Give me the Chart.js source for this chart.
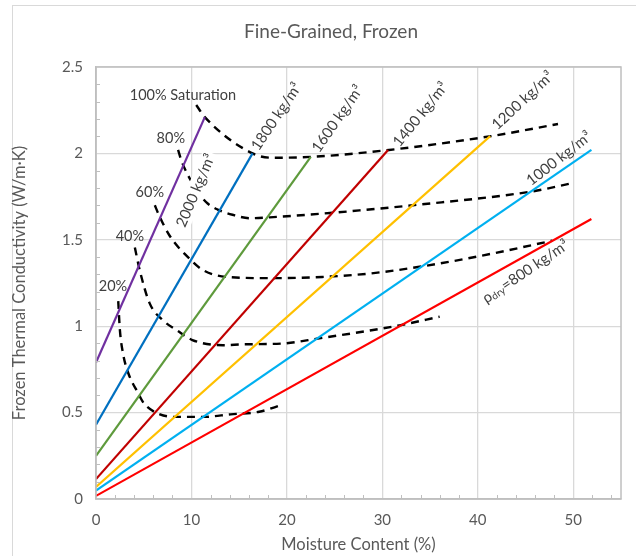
<!DOCTYPE html>
<html>
<head>
<meta charset="utf-8">
<script src="https://cdn.jsdelivr.net/npm/chart.js@4.4.1/dist/chart.umd.min.js"></script>
<style>
  html, body { margin: 0; padding: 0; background: #fff; }
  #wrap { position: relative; width: 636px; height: 556px; overflow: hidden; }
  #frame { position: absolute; left: 12px; top: 5px; width: 700px; height: 700px; border: 1px solid #d9d9d9; }
  #chart { position: absolute; left: 0; top: 0; }
</style>
</head>
<body>
<div id="wrap">
  <div id="frame"></div>
  <canvas id="chart" width="636" height="556"></canvas>
</div>
<script>
  "use strict";

  var FONT = "Lato, 'Open Sans', sans-serif";
  var TEXT = "#595959";
  var TITLE = "Fine-Grained, Frozen";

  // solid lines, one per dry density (moisture % -> conductivity W/m·K)
  var densities = ["2000", "1800", "1600", "1400", "1200", "1000", "800"];
  var densityColors = ["#7030A0", "#0070C0", "#5E9A3C", "#C00000", "#FFC000", "#00B0F0", "#FF0000"];
  var lineStartK = [0.79, 0.43, 0.25, 0.115, 0.07, 0.048, 0.018];
  var lineEndMoisture = [11.4, 16.4, 22.5, 30.6, 41.3, 51.9, 51.9];
  var lineEndK = [2.21, 2.00, 1.98, 2.02, 2.10, 2.02, 1.62];

  // dashed saturation curves
  var sat100X = [10.5, 11.4, 16.4, 18.4, 22.6, 30.7, 41.4, 48.4];
  var sat100Y = [2.28, 2.21, 2.00, 1.975, 1.98, 2.02, 2.10, 2.17];
  var sat80X = [8.6, 9.0, 11.05, 11.7, 12.75, 14.3, 16.1, 18.2, 24.5, 27.6, 33.2, 45.7, 50.1];
  var sat80Y = [2.02, 1.95, 1.75, 1.71, 1.675, 1.645, 1.625, 1.63, 1.655, 1.67, 1.70, 1.78, 1.83];
  var sat60X = [6.16, 6.5, 7.7, 9.8, 11.2, 13.7, 18.5, 23.7, 28.7, 34.6, 41.5, 47.8];
  var sat60Y = [1.70, 1.655, 1.525, 1.39, 1.325, 1.285, 1.278, 1.285, 1.305, 1.35, 1.42, 1.495];
  var sat40X = [4.07, 4.6, 5.6, 7.0, 8.5, 10.1, 13.3, 15.4, 19.6, 23.4, 28.7, 31.8, 36.0];
  var sat40Y = [1.455, 1.32, 1.135, 1.035, 0.975, 0.92, 0.89, 0.895, 0.9, 0.93, 0.975, 1.005, 1.055];
  var sat20X = [2.33, 2.5, 2.82, 3.34, 4.39, 5.0, 6.7, 8.6, 11.2, 14.1, 17.1, 19.5];
  var sat20Y = [1.145, 0.98, 0.845, 0.735, 0.615, 0.555, 0.49, 0.475, 0.475, 0.49, 0.505, 0.545];

  // annotation text, anchored in data units
  var satLabels = ["100% Saturation", "80%", "60%", "40%", "20%"];
  var satLabelX = [9.1, 7.84, 5.64, 3.55, 1.78];
  var satLabelY = [2.335, 2.086, 1.774, 1.52, 1.23];
  var densityLabelX = [10.45, 18.9, 25.3, 34.0, 44.7, 48.5, 45.0];
  var densityLabelY = [1.785, 2.213, 2.20, 2.225, 2.306, 1.97, 1.316];
  var densityLabelAngle = [-67, -56, -55, -51, -43, -38, -34];
  var densityLabelFilled = [true, false, false, false, false, false, false];

  function zip(xs, ys) {
    return xs.map(function (x, i) { return { x: x, y: ys[i] }; });
  }

  var datasets = densities.map(function (d, i) {
    return {
      data: [{ x: 0, y: lineStartK[i] }, { x: lineEndMoisture[i], y: lineEndK[i] }],
      borderColor: densityColors[i],
      borderWidth: 2.2,
      pointRadius: 0,
      showLine: true
    };
  });

  [[sat100X, sat100Y], [sat80X, sat80Y], [sat60X, sat60Y], [sat40X, sat40Y], [sat20X, sat20Y]]
    .forEach(function (pair) {
      datasets.push({
        data: zip(pair[0], pair[1]),
        borderColor: "#000",
        borderWidth: 2.4,
        borderDash: [8, 6],
        pointRadius: 0,
        showLine: true,
        cubicInterpolationMode: "monotone"
      });
    });

  var annotations = {
    id: "annotations",
    afterDatasetsDraw: function (chart) {
      var ctx = chart.ctx;
      var xs = chart.scales.x;
      var ys = chart.scales.y;
      ctx.save();
      ctx.fillStyle = TEXT;
      ctx.font = "19px " + FONT;
      ctx.textAlign = "center";
      ctx.textBaseline = "middle";
      ctx.fillText(TITLE, 331, 32);

      ctx.fillStyle = "#404040";
      ctx.font = "14.5px " + FONT;
      satLabels.forEach(function (t, i) {
        ctx.fillText(t, xs.getPixelForValue(satLabelX[i]), ys.getPixelForValue(satLabelY[i]));
      });

      densities.forEach(function (d, i) {
        var px = xs.getPixelForValue(densityLabelX[i]);
        var py = ys.getPixelForValue(densityLabelY[i]);
        ctx.save();
        ctx.translate(px, py);
        ctx.rotate(densityLabelAngle[i] * Math.PI / 180);
        var parts = d === "800"
          ? [["\u03C1", 15, 0], ["dry", 10, 3], ["=800 kg/m\u00B3", 15, 0]]
          : [[d + " kg/m\u00B3", 15, 0]];
        var total = 0;
        parts.forEach(function (p) { ctx.font = p[1] + "px " + FONT; total += ctx.measureText(p[0]).width; });
        if (densityLabelFilled[i]) {
          ctx.fillStyle = "#fff";
          ctx.fillRect(-total / 2 - 2, -9, total + 4, 18);
        }
        ctx.fillStyle = "#404040";
        var cx = -total / 2;
        ctx.textAlign = "left";
        parts.forEach(function (p) {
          ctx.font = p[1] + "px " + FONT;
          ctx.fillText(p[0], cx, p[2]);
          cx += ctx.measureText(p[0]).width;
        });
        ctx.restore();
      });
      ctx.restore();
    },
    afterDraw: function (chart) {
      var ctx = chart.ctx;
      var a = chart.chartArea;
      var xs = chart.scales.x;
      var ys = chart.scales.y;
      ctx.save();
      ctx.strokeStyle = "#BFBFBF";
      ctx.lineWidth = 1.5;
      ctx.strokeRect(a.left, a.top, a.right - a.left, a.bottom - a.top);
      ctx.lineWidth = 1;
      ctx.beginPath();
      for (var m = 2; m < 55; m += 2) {
        if (m % 10 === 0) continue;
        var px = Math.round(xs.getPixelForValue(m)) + 0.5;
        ctx.moveTo(px, a.bottom);
        ctx.lineTo(px, a.bottom - 4);
      }
      for (var k = 1; k < 25; k++) {
        if (k % 5 === 0) continue;
        var py = Math.round(ys.getPixelForValue(k / 10)) + 0.5;
        ctx.moveTo(a.left, py);
        ctx.lineTo(a.left + 4, py);
      }
      ctx.stroke();
      ctx.restore();
    }
  };

  new Chart(document.getElementById("chart"), {
    type: "scatter",
    data: { datasets: datasets },
    plugins: [annotations],
    options: {
      responsive: false,
      animation: false,
      layout: { padding: { left: 0, right: 15, top: 67, bottom: 0 } },
      plugins: {
        legend: { display: false },
        tooltip: { enabled: false },
        title: { display: false }
      },
      scales: {
        x: {
          type: "linear",
          min: 0,
          max: 55,
          afterBuildTicks: function (s) {
            s.ticks = s.ticks.filter(function (t) { return t.value % 10 === 0; });
          },
          afterFit: function (s) { s.height = 57; },
          ticks: { stepSize: 10, color: TEXT, font: { family: FONT, size: 15 }, padding: 12 },
          grid: { color: "#D9D9D9", lineWidth: 1.3, drawTicks: false },
          border: { color: "#BFBFBF", width: 1.5 },
          title: {
            display: true,
            text: "Moisture Content (%)",
            color: TEXT,
            font: { family: FONT, size: 16.5 },
            padding: { top: 0, bottom: 1 }
          }
        },
        y: {
          min: 0,
          max: 2.5,
          afterFit: function (s) { s.width = 96; },
          ticks: {
            stepSize: 0.5,
            color: TEXT,
            font: { family: FONT, size: 15 },
            padding: 13,
            callback: function (v) { return String(v); }
          },
          grid: { color: "#D9D9D9", lineWidth: 1.3, drawTicks: false },
          border: { color: "#BFBFBF", width: 1.5 },
          title: {
            display: true,
            text: "Frozen Thermal Conductivity (W/m\u00B7K)",
            color: TEXT,
            font: { family: FONT, size: 16.5 },
            padding: { top: 10, bottom: 0 }
          }
        }
      }
    }
  });
</script>
</body>
</html>
